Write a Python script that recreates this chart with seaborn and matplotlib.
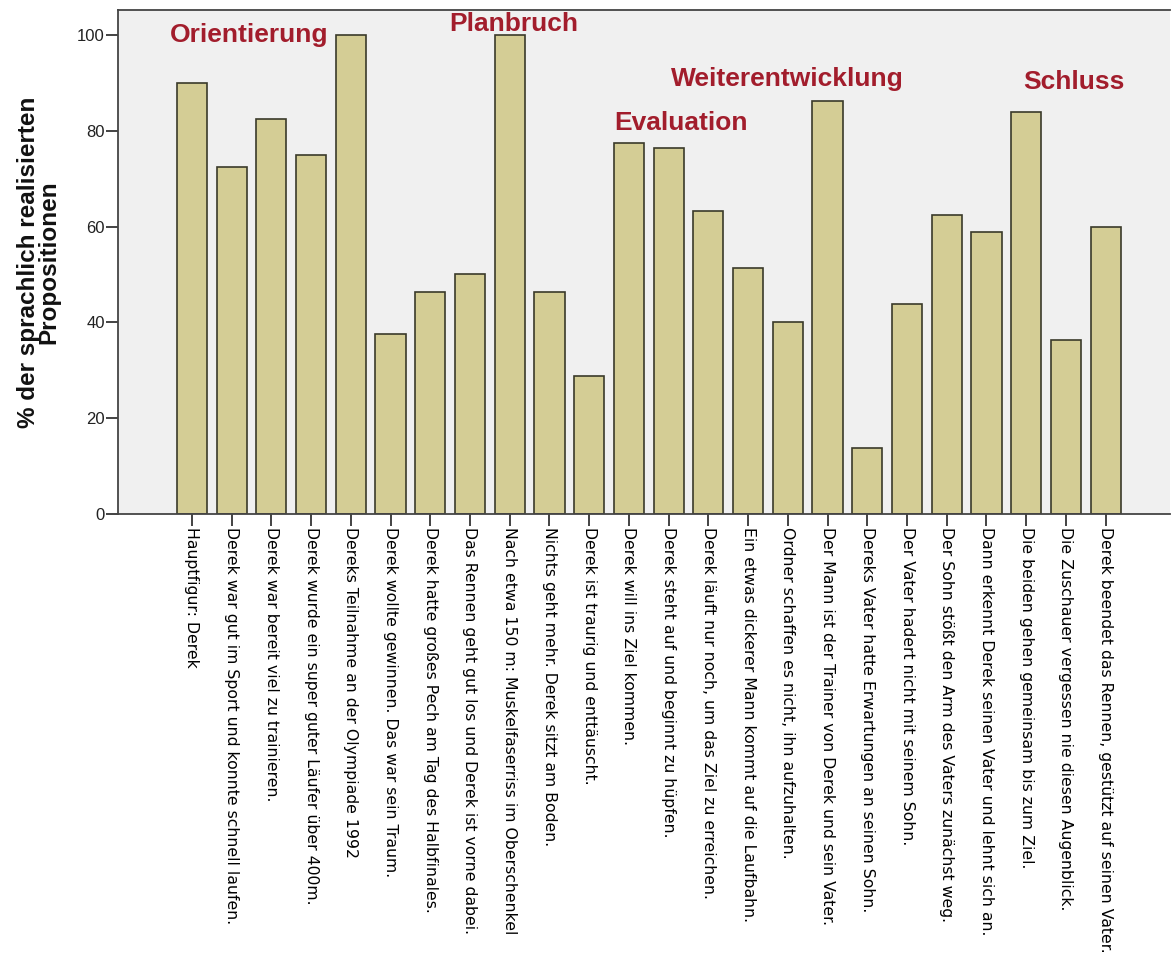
import seaborn as sns
import matplotlib.pyplot as plt
import pandas as pd

# Propositionen der Geschichte (Reihenfolge wie im Film)
propositionen = [
    "Hauptfigur: Derek",
    "Derek war gut im Sport und konnte schnell laufen.",
    "Derek war bereit viel zu trainieren.",
    "Derek wurde ein super guter Läufer über 400m.",
    "Dereks Teilnahme an der Olympiade 1992",
    "Derek wollte gewinnen. Das war sein Traum.",
    "Derek hatte großes Pech am Tag des Halbfinales.",
    "Das Rennen geht gut los und Derek ist vorne dabei.",
    "Nach etwa 150 m: Muskelfaserriss im Oberschenkel",
    "Nichts geht mehr. Derek sitzt am Boden.",
    "Derek ist traurig und enttäuscht.",
    "Derek will ins Ziel kommen.",
    "Derek steht auf und beginnt zu hüpfen.",
    "Derek läuft nur noch, um das Ziel zu erreichen.",
    "Ein etwas dickerer Mann kommt auf die Laufbahn.",
    "Ordner schaffen es nicht, ihn aufzuhalten.",
    "Der Mann ist der Trainer von Derek und sein Vater.",
    "Dereks Vater hatte Erwartungen an seinen Sohn.",
    "Der Vater hadert nicht mit seinem Sohn.",
    "Der Sohn stößt den Arm des Vaters zunächst weg.",
    "Dann erkennt Derek seinen Vater und lehnt sich an.",
    "Die beiden gehen gemeinsam bis zum Ziel.",
    "Die Zuschauer vergessen nie diesen Augenblick.",
    "Derek beendet das Rennen, gestützt auf seinen Vater.",
]
prozent = [90, 72.5, 82.5, 75, 100, 37.5, 46.3, 50, 100, 46.3, 28.8, 77.5,
           76.3, 63.3, 51.3, 40, 86.3, 13.8, 43.8, 62.5, 58.8, 83.8, 36.3, 60]

# Abschnitte der Erzählung: Name, Position (Balkenindex), Höhe
abschnitte = ["Orientierung", "Planbruch", "Evaluation", "Weiterentwicklung", "Schluss"]
abschnitt_x = [1.45, 8.1, 12.3, 15.0, 22.2]
abschnitt_y = [100.0, 102.3, 81.6, 90.8, 90.2]

df = pd.DataFrame({"prop": propositionen, "pct": prozent})

plt.rcParams['font.family'] = ['Liberation Sans', 'DejaVu Sans']

fig = plt.figure(figsize=(11.74, 9.76), dpi=100)
ax = fig.add_axes([0.1005, 0.4734, 0.8961, 0.5164])
ax.set_facecolor('#f0f0f0')

sns.barplot(data=df, x="prop", y="pct", order=propositionen, color='#d4cd95',
            edgecolor='#3a3a2a', linewidth=1.2, width=0.76, saturation=1, ax=ax)

ax.set_xlim(-1.86, 24.62)
ax.set_ylim(0, 105.2)
ax.set_yticks([0, 20, 40, 60, 80, 100])
ax.set_xlabel("")
ax.set_ylabel("% der sprachlich realisierten\nPropositionen", fontsize=17.5,
              fontweight='bold', labelpad=12, linespacing=0.85, color='#111111')

ax.set_xticks(range(len(propositionen)))
ax.set_xticklabels(propositionen, rotation=270, fontsize=11.3,
                   family=['DejaVu Sans'], va='top', ha='center')
ax.tick_params(axis='x', length=8.6, width=1.2, color='#222222', pad=0.5)
ax.tick_params(axis='y', length=8.6, width=1.2, color='#222222', labelsize=12,
               labelcolor='#222222', pad=1)

for side in ['left', 'bottom', 'top']:
    ax.spines[side].set_color('#444444')
    ax.spines[side].set_linewidth(1.3)
ax.spines['right'].set_visible(False)

for name, x, y in zip(abschnitte, abschnitt_x, abschnitt_y):
    ax.text(x, y, name, color='#a21d2c', fontsize=19, fontweight='bold',
            ha='center', va='center')

fig.savefig('out.png', dpi=100)
